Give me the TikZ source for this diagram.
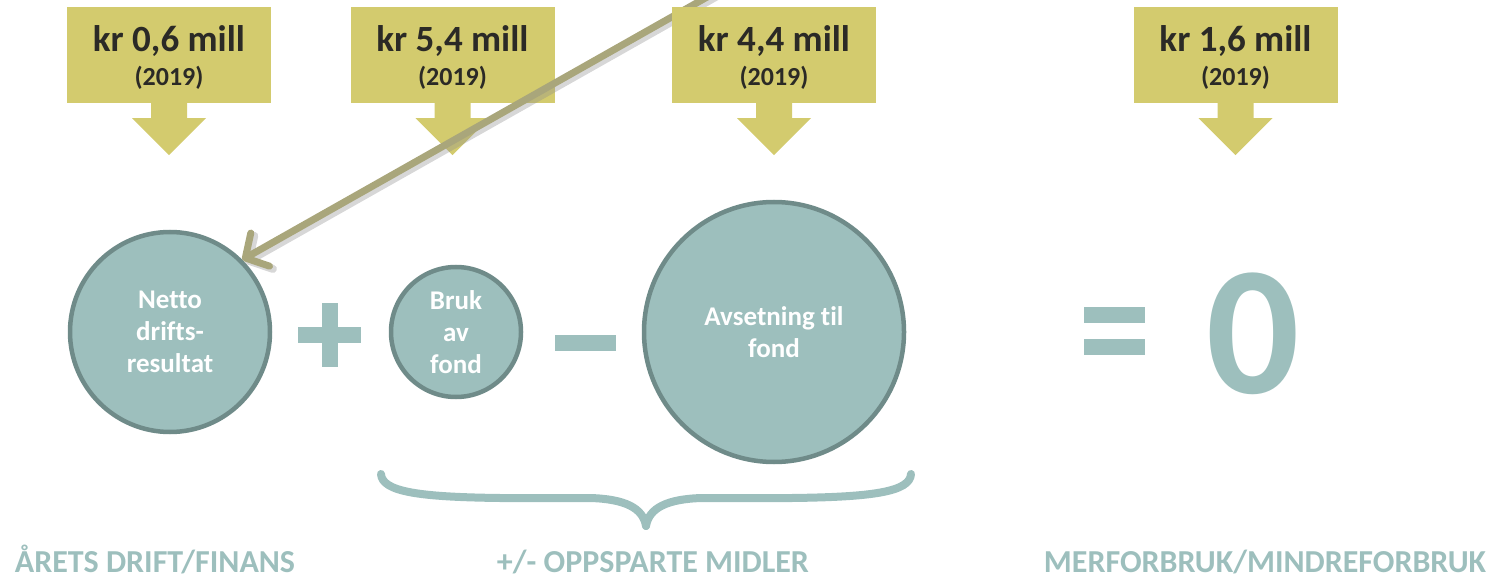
\documentclass[tikz,border=0pt]{standalone}
\usepackage{fontspec}
\setmainfont{Carlito}[Ligatures=CommonOff]
\usetikzlibrary{arrows.meta,calc}
\definecolor{boxfill}{HTML}{D3CB6E}
\definecolor{boxtext}{HTML}{2B2A26}
\definecolor{circfill}{HTML}{9DBFBD}
\definecolor{circline}{HTML}{6F8B89}
\definecolor{oliveline}{HTML}{A9A67B}
\newcommand{\calloutarrow}[1]{%
  \fill[boxfill] ($(#1.south)+(-18,-1)$) -- ($(#1.south)+(-18,15)$) -- ($(#1.south)+(-37,15)$)
    -- ($(#1.south)+(0,52)$) -- ($(#1.south)+(37,15)$) -- ($(#1.south)+(18,15)$)
    -- ($(#1.south)+(18,-1)$) -- cycle;}
\begin{document}
\begin{tikzpicture}[x=1pt,y=-1pt,
  callout/.style={fill=boxfill, minimum width=204pt, minimum height=96pt, inner sep=0pt},
  bigamount/.style={font=\bfseries\fontsize{37}{42}\selectfont, text=boxtext, anchor=base, inner sep=0pt},
  yearlabel/.style={font=\bfseries\fontsize{26}{30}\selectfont, text=boxtext, anchor=base, inner sep=0pt},
  circ/.style={circle, fill=circfill, draw=circline, line width=4.5pt, text=white, align=center,
    inner sep=0pt, font=\bfseries\fontsize{27}{32}\selectfont},
  bottomlabel/.style={font=\bfseries\fontsize{32}{36}\selectfont, text=circfill, anchor=base, inner sep=0pt},
  oper/.style={fill=circfill},
  olivearrow/.style={draw=oliveline, line width=7pt, -{Straight Barb[length=17pt,width=38pt,round]}},
  olivShadow/.style={draw=black!45, opacity=0.35, line width=8pt, -{Straight Barb[length=17pt,width=38pt,round]}},
  bracestyle/.style={draw=circfill, line width=8pt, line cap=round, line join=round}
]
\useasboundingbox (0,0) rectangle (1493,577);

% callouts (first two, below the olive line)
\node[callout] (b1) at (169,55) {};
\node[callout] (b2) at (452.5,55) {};
\node[callout] (b4) at (1235.5,55) {};
\calloutarrow{b1}
\calloutarrow{b2}
\calloutarrow{b4}

% circles
\node[circ, minimum size=200pt] (c1) at (170,332) {Netto\\drifts-\\resultat};
\node[circ, minimum size=130pt] (c2) at (456,332) {Bruk\\av\\fond};
\node[circ, minimum size=260pt] (c3) at (774,332) {Avsetning til\\fond};

% olive arrow
\coordinate (lstart) at (716,-8);
\coordinate (lstartS) at (719,-5);
\coordinate (tipS) at ($(c1.45)+(3,3)$);
\draw[olivShadow] (lstartS) -- (tipS);
\draw[olivearrow] (lstart) -- (c1.45);

% third callout drawn above the line
\node[callout] (b3) at (774,55) {};
\calloutarrow{b3}

\node[bigamount] (a1) at (169,52) {kr 0,6 mill};
\node[yearlabel] (y1) at (169,86) {(2019)};
\node[bigamount] (a2) at (452.5,52) {kr 5,4 mill};
\node[yearlabel] (y2) at (452.5,86) {(2019)};
\node[bigamount] (a3) at (774,52) {kr 4,4 mill};
\node[yearlabel] (y3) at (774,86) {(2019)};
\node[bigamount] (a4) at (1235.5,52) {kr 1,6 mill};
\node[yearlabel] (y4) at (1235.5,86) {(2019)};

% operators
\fill[oper] (298,327) rectangle (361,343);
\fill[oper] (322,303) rectangle (338,367);
\fill[oper] (555,335) rectangle (616,351);
\fill[oper] (1084,307) rectangle (1145,323);
\fill[oper] (1084,339) rectangle (1145,355);
\node[font=\bfseries\fontsize{184}{190}\selectfont, text=circfill, anchor=base, inner sep=0pt] (zero) at (1253,393) {0};

% brace
\draw[bracestyle] (381,474) .. controls (382,492) and (420,497) .. (500,498) -- (590,498)
  .. controls (625,499) and (643,508) .. (646,526);
\draw[bracestyle] (911,474) .. controls (910,492) and (872,497) .. (792,498) -- (702,498)
  .. controls (667,499) and (649,508) .. (646,526);

% bottom labels
\node[bottomlabel] (l1) at (155,572) {ÅRETS DRIFT/FINANS};
\node[bottomlabel] (l2) at (653,572) {+/- OPPSPARTE MIDLER};
\node[bottomlabel] (l3) at (1265,572) {MERFORBRUK/MINDREFORBRUK};
\end{tikzpicture}
\end{document}
